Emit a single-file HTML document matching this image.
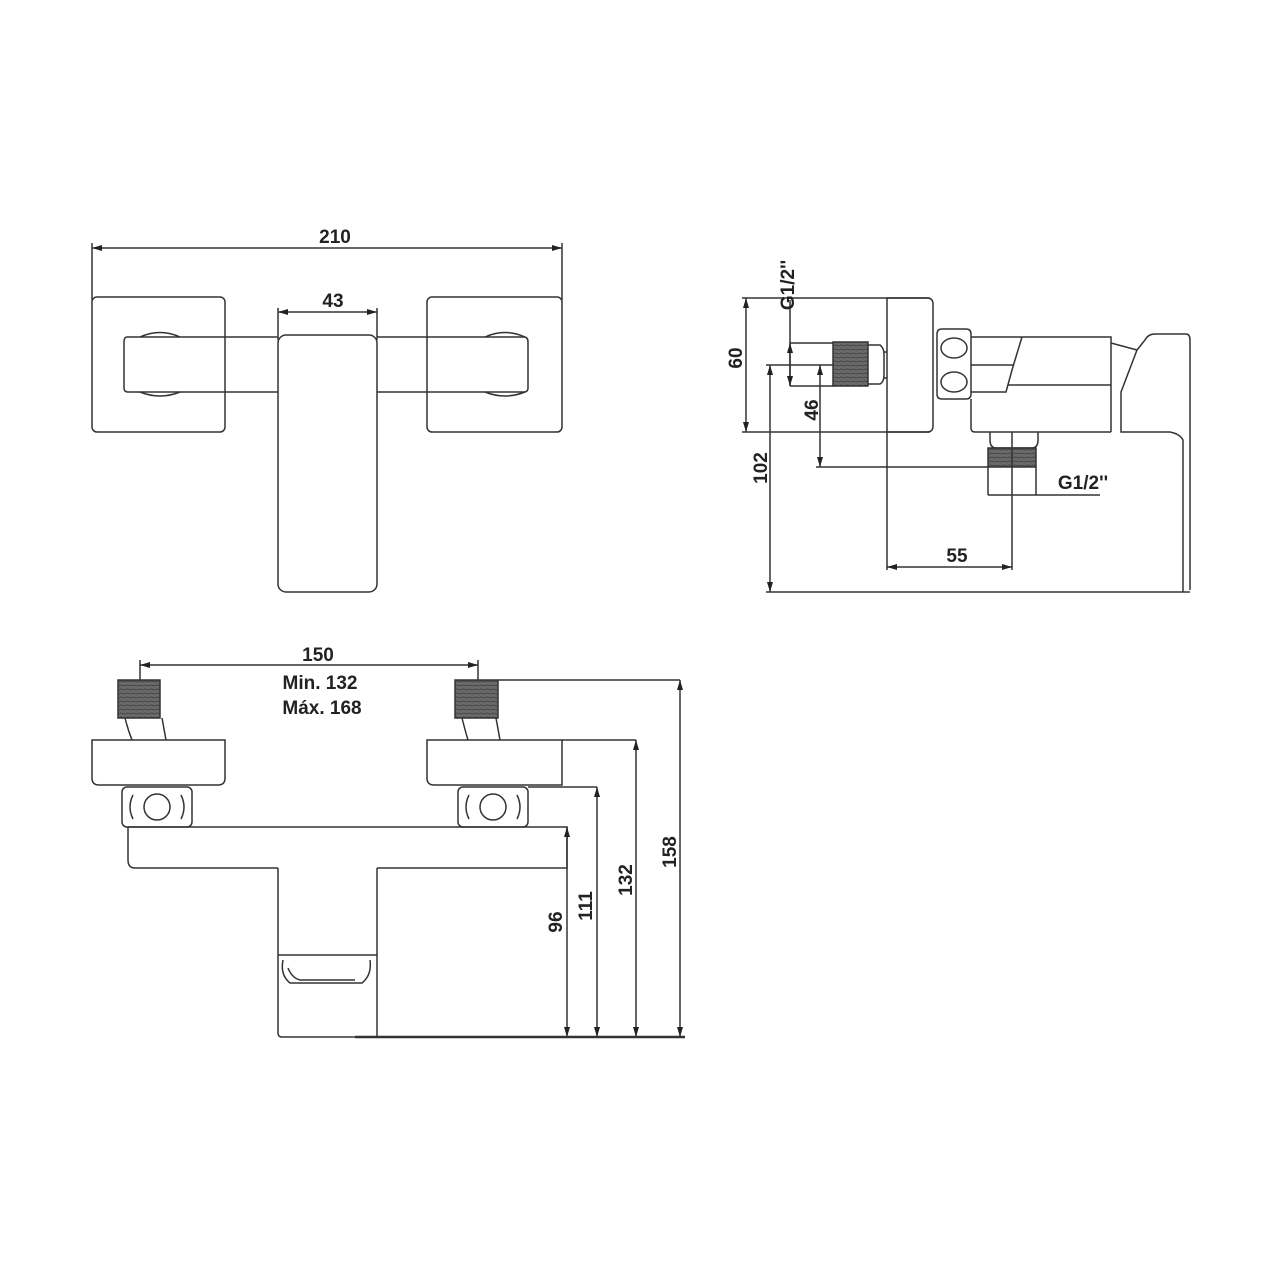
<!DOCTYPE html>
<html><head><meta charset="utf-8"><style>
html,body{margin:0;padding:0;background:#fff;}
svg{display:block}
text{font-family:"Liberation Sans",Arial,sans-serif;font-weight:bold;fill:#222;}
</style></head><body>
<svg width="1280" height="1280" viewBox="0 0 1280 1280" xmlns="http://www.w3.org/2000/svg">
<defs>
<marker id="a" viewBox="0 0 10 6" refX="10" refY="3" markerWidth="10" markerHeight="6" orient="auto-start-reverse" markerUnits="userSpaceOnUse"><path d="M0,0 L10,3 L0,6 z" fill="#222"/></marker>
<pattern id="th" width="6" height="4" patternUnits="userSpaceOnUse"><rect width="6" height="4" fill="#6a6a6a"/><line x1="0" y1="1" x2="6" y2="2" stroke="#444" stroke-width="1"/></pattern>
</defs>
<g fill="none" stroke="#333" stroke-width="1.5">
<!-- TOP VIEW -->
<line x1="92" y1="248" x2="562" y2="248" marker-start="url(#a)" marker-end="url(#a)"/>
<line x1="92" y1="243" x2="92" y2="300"/><line x1="562" y1="243" x2="562" y2="300"/>
<rect x="92" y="297" width="133" height="135" rx="5"/>
<rect x="427" y="297" width="135" height="135" rx="5"/>
<path d="M278,337 H127 Q124,337 124,342 V388 Q124,392 128,392 H278"/>
<path d="M377,337 H524 Q528,337 528,342 V388 Q528,392 524,392 H377"/>
<path d="M140,337 Q160,328 180,337 M140,392 Q160,400 180,392 M485,337 Q505,328 525,337 M485,392 Q505,400 525,392"/>
<line x1="278" y1="312" x2="377" y2="312" marker-start="url(#a)" marker-end="url(#a)"/>
<line x1="278" y1="308" x2="278" y2="340"/><line x1="377" y1="308" x2="377" y2="340"/>
<rect x="278" y="335" width="99" height="257" rx="8"/>
<!-- SIDE VIEW -->
<line x1="746" y1="298" x2="746" y2="432" marker-start="url(#a)" marker-end="url(#a)"/>
<line x1="742" y1="298" x2="930" y2="298"/><line x1="742" y1="432" x2="930" y2="432"/>
<path d="M887,298 H927 Q933,298 933,304 V426 Q933,432 927,432 H887 Z"/>
<line x1="887" y1="432" x2="887" y2="570"/>
<line x1="770" y1="365" x2="770" y2="592" marker-start="url(#a)" marker-end="url(#a)"/>
<line x1="766" y1="365" x2="833" y2="365"/>
<line x1="766" y1="592" x2="1190" y2="592"/>
<line x1="790" y1="343" x2="833" y2="343"/><line x1="790" y1="386" x2="833" y2="386"/>
<line x1="790" y1="300" x2="790" y2="386"/>
<line x1="790" y1="343" x2="790" y2="386" marker-start="url(#a)" marker-end="url(#a)"/>
<rect x="833" y="342" width="35" height="44" fill="url(#th)"/>
<path d="M868,345 H880 Q884,348 884,354 V375 Q884,382 880,384 H868 M884,352 H887 M884,378 H887"/>
<line x1="820" y1="365" x2="820" y2="467" marker-start="url(#a)" marker-end="url(#a)"/>
<line x1="816" y1="467" x2="988" y2="467"/>
<path d="M937,334 Q937,329 942,329 H966 Q971,329 971,334 V394 Q971,399 966,399 H942 Q937,399 937,394 Z"/>
<ellipse cx="954" cy="348" rx="13" ry="10"/><ellipse cx="954" cy="382" rx="13" ry="10"/>
<path d="M971,337 H1022 L1012,370 L1006,392 H971 M971,365 H1014 M1008,385 H1111 M1022,337 H1111 V432 M971,399 V428 Q971,432 975,432 H1111"/>
<path d="M1111,343 L1137,350 L1145,340 Q1148,334 1155,334 H1186 Q1190,334 1190,340 V590 M1137,350 L1121,392 V432 H1170 Q1180,434 1183,440 V592"/>
<path d="M990,432 V440 Q990,447 995,448 H1033 Q1038,447 1038,440 V432"/>
<rect x="988" y="448" width="48" height="19" fill="url(#th)"/>
<line x1="988" y1="467" x2="988" y2="495"/><line x1="1036" y1="467" x2="1036" y2="495"/>
<line x1="988" y1="495" x2="1100" y2="495"/>
<line x1="1012" y1="432" x2="1012" y2="570"/>
<line x1="887" y1="567" x2="1012" y2="567" marker-start="url(#a)" marker-end="url(#a)"/>
<!-- FRONT VIEW -->
<line x1="140" y1="665" x2="478" y2="665" marker-start="url(#a)" marker-end="url(#a)"/>
<line x1="140" y1="660" x2="140" y2="690"/><line x1="478" y1="660" x2="478" y2="690"/>
<rect x="118" y="680" width="42" height="38" fill="url(#th)"/>
<rect x="455" y="680" width="43" height="38" fill="url(#th)"/>
<path d="M125,718 Q128,730 132,740 M162,718 L166,740 M462,718 Q465,730 468,740 M496,718 L500,740"/>
<line x1="498" y1="680" x2="680" y2="680"/>
<line x1="680" y1="680" x2="680" y2="1037" marker-start="url(#a)" marker-end="url(#a)"/>
<path d="M92,740 H225 V778 Q225,785 218,785 H99 Q92,785 92,778 Z"/>
<path d="M427,740 H562 V785 H434 Q427,785 427,778 Z"/>
<line x1="562" y1="740" x2="636" y2="740"/>
<line x1="636" y1="740" x2="636" y2="1037" marker-start="url(#a)" marker-end="url(#a)"/>
<rect x="122" y="787" width="70" height="40" rx="5"/>
<rect x="458" y="787" width="70" height="40" rx="5"/>
<circle cx="157" cy="807" r="13"/><circle cx="493" cy="807" r="13"/>
<path d="M133,795 Q127,807 133,819 M181,795 Q187,807 181,819 M469,795 Q463,807 469,819 M517,795 Q523,807 517,819"/>
<line x1="528" y1="787" x2="597" y2="787"/>
<line x1="597" y1="787" x2="597" y2="1037" marker-start="url(#a)" marker-end="url(#a)"/>
<path d="M128,827 H567 V868 H377 M128,827 V860 Q128,868 135,868 H278"/>
<line x1="567" y1="827" x2="567" y2="1037" marker-start="url(#a)" marker-end="url(#a)"/>
<path d="M278,868 V1033 Q278,1037 282,1037 H355 M377,868 V1037"/>
<path d="M278,955 H377 M283,960 Q280,975 290,983 H362 Q372,975 370,960 M288,968 Q292,978 300,980 H355"/>
<line x1="355" y1="1037" x2="685" y2="1037" stroke-width="2.5"/>
</g>
<g font-size="19">
<text x="335" y="243" text-anchor="middle">210</text>
<text x="333" y="307" text-anchor="middle">43</text>
<text x="957" y="562" text-anchor="middle">55</text>
<text x="1083" y="489" text-anchor="middle">G1/2''</text>
<text transform="translate(794,285) rotate(-90)" text-anchor="middle">G1/2''</text>
<text transform="translate(742,358) rotate(-90)" text-anchor="middle">60</text>
<text transform="translate(818,410) rotate(-90)" text-anchor="middle">46</text>
<text transform="translate(767,468) rotate(-90)" text-anchor="middle">102</text>
<text x="318" y="661" text-anchor="middle">150</text>
<text x="320" y="689" text-anchor="middle">Min. 132</text>
<text x="322" y="714" text-anchor="middle">Máx. 168</text>
<text transform="translate(562,922) rotate(-90)" text-anchor="middle">96</text>
<text transform="translate(592,906) rotate(-90)" text-anchor="middle">111</text>
<text transform="translate(632,880) rotate(-90)" text-anchor="middle">132</text>
<text transform="translate(676,852) rotate(-90)" text-anchor="middle">158</text>
</g>
</svg>
</body></html>
